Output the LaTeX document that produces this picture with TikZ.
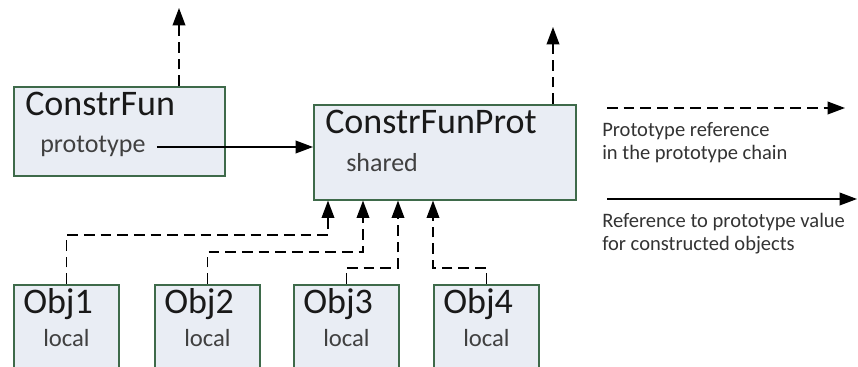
\documentclass[tikz,border=0pt]{standalone}
\usepackage{fontspec}
\setmainfont{Carlito}
\usetikzlibrary{arrows.meta}
\definecolor{boxfill}{RGB}{233,237,244}
\definecolor{boxline}{RGB}{62,106,74}
\tikzset{
  objbox/.style={draw=boxline, fill=boxfill, line width=1.2pt, inner sep=0pt, anchor=north west},
  title/.style={anchor=base west, inner sep=0pt, text=black!90, font=\fontsize{27}{30}\selectfont},
  field/.style={anchor=base west, inner sep=0pt, text=black!75, font=\fontsize{19.5}{22}\selectfont},
  note/.style={anchor=base west, inner sep=0pt, align=left, text=black!80, font=\fontsize{15.4}{17.25}\selectfont},
  ref/.style={line width=1.1pt, -{Triangle[length=13pt,width=9.5pt]}},
  protoref/.style={ref, dash pattern=on 8pt off 4.5pt},
}
\begin{document}
\begin{tikzpicture}[x=0.75pt,y=-0.75pt]
\clip (0,0) rectangle (858,367);

% constructor and its prototype object
\node[objbox, minimum width=158.25pt, minimum height=66.75pt] (fun) at (13,86) {};
\node[title] (funname) at ([shift={(12,30)}]fun.north west) {ConstrFun};
\node[field] (proto) at ([shift={(27,67)}]fun.north west) {prototype};

\node[objbox, minimum width=196.5pt, minimum height=71.25pt] (prot) at (313,104) {};
\node[title] (protname) at ([shift={(12,30)}]prot.north west) {ConstrFunProt};
\node[field] (shared) at ([shift={(33,68)}]prot.north west) {shared};

% the objects made by the constructor
\foreach \i/\x in {1/13,2/154,3/293,4/433} {
  \node[objbox, minimum width=78.75pt, minimum height=75pt] (obj\i) at (\x,284) {};
  \node[title] (objname\i) at ([shift={(10,30)}]obj\i.north west) {Obj\i};
  \node[field, font=\fontsize{18.5}{22}\selectfont] (local\i) at ([shift={(30,63)}]obj\i.north west) {local};
}

% chain upwards
\coordinate (funup) at (179,8);
\coordinate (protup) at (553,27);
\draw[protoref] (fun.north -| funup) -- (funup);
\draw[protoref] (prot.north -| protup) -- (protup);

\draw[ref] ([xshift=8.25pt,yshift=4.5pt]proto.base east) -- ([yshift=4.5pt]proto.base east -| prot.west);

\foreach \i/\dx/\y in {1/15/235,2/50/252,3/85/268,4/120/268} {
  \coordinate (in\i) at ([shift={(\dx,0)}]prot.south west);
  \draw[protoref] (obj\i.north) -- ++(0,\y-284) -| (in\i);
}

% legend (base anchor sits on the last line)
\coordinate (leg1s) at (607,108);
\coordinate (leg1e) at (845,108);
\draw[protoref] (leg1s) -- (leg1e);
\node[note] (leg1) at (602,160) {Prototype reference\\in the prototype chain};

\coordinate (leg2s) at (607,199);
\coordinate (leg2e) at (857,199);
\draw[ref] (leg2s) -- (leg2e);
\node[note] (leg2) at (602,251) {Reference to prototype value\\for constructed objects};
\end{tikzpicture}
\end{document}
